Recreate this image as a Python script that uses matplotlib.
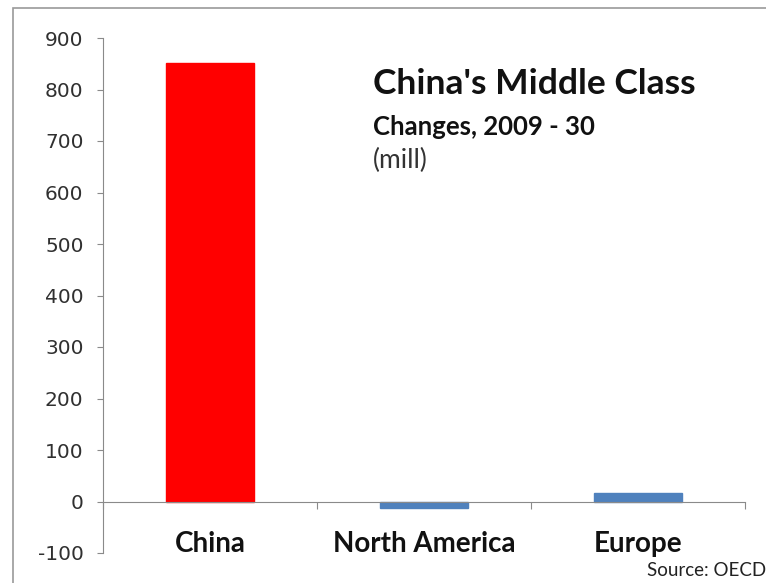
import numpy as np
import matplotlib.pyplot as plt
from matplotlib.patches import Rectangle

# data (millions)
regions = ['China', 'North America', 'Europe']
changes = [852, -12, 17]
bar_colors = ['#FF0000', '#4F81BD', '#4F81BD']
y_ticks = [-100, 0, 100, 200, 300, 400, 500, 600, 700, 800, 900]

W, H = 766, 583
fig = plt.figure(figsize=(W / 100, H / 100), dpi=100)

# outer chart frame (cut off at right and bottom like the screenshot)
fig.patches.append(Rectangle((13 / W, -0.1), 1.2, 1.1 - 8 / H, transform=fig.transFigure,
                             fill=False, edgecolor='#9a9a9a', linewidth=1.2))

ax = fig.add_axes([103 / W, 1 - 553 / H, (745 - 103) / W, (553 - 38) / H])
x = np.arange(len(regions))
ax.bar(x, changes, width=0.41, color=bar_colors, edgecolor=bar_colors, zorder=1)

ax.set_xlim(-0.5, 2.5)
ax.set_ylim(-100, 900)

# spine moves first: set_position resets the ticks
for s in ['top', 'right']:
    ax.spines[s].set_visible(False)
ax.spines['bottom'].set_position(('data', 0))
ax.spines['bottom'].set_color('#8a8a8a')
ax.spines['left'].set_color('#8a8a8a')

ax.set_yticks(y_ticks)
# category boundaries get tick marks, names sit between them
ax.set_xticks([-0.5, 0.5, 1.5, 2.5])
ax.set_xticks(x, minor=True)
ax.tick_params(axis='x', which='minor', length=0, pad=21)
ax.tick_params(axis='x', which='major', length=5, color='#8a8a8a', direction='out')
ax.tick_params(axis='y', length=4, color='#8a8a8a', pad=10)

ax.set_xticklabels([])
ax.set_xticklabels(regions, minor=True, fontsize=20, fontweight='bold',
                   fontfamily='Lato', color='#111111')
ax.set_yticklabels([str(v) for v in y_ticks], fontsize=14.5, color='#303030')

fig.text(373 / W, 1 - 84 / H, "China's Middle Class", fontsize=25.5, fontweight='bold',
         fontfamily='Lato', color='#111111', va='center')
fig.text(373 / W, 1 - 127 / H, "Changes, 2009 - 30", fontsize=18.5, fontweight='bold',
         fontfamily='Lato', color='#111111', va='center')
fig.text(373 / W, 1 - 160 / H, "(mill)", fontsize=19, fontfamily='Lato',
         color='#333333', va='center')
fig.text(647 / W, 1 - 571 / H, "Source: OECD", fontsize=13.5, fontfamily='Lato',
         color='#222222', va='center')

fig.savefig('out.png', dpi=100)
